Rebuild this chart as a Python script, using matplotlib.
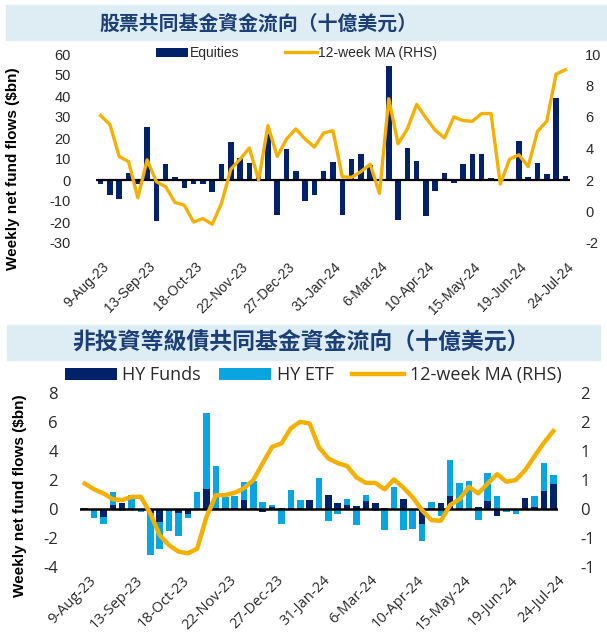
import numpy as np
import pandas as pd
import matplotlib
matplotlib.use("Agg")
import matplotlib.pyplot as plt
import matplotlib.font_manager as fm
import matplotlib.transforms as mtransforms
from matplotlib.patches import Rectangle
from matplotlib.ticker import FuncFormatter

# weekly dates, 9-Aug-23 .. 24-Jul-24
dates = pd.date_range("2023-08-09", periods=51, freq="7D")
date_labels = [f"{d.day}-{d.strftime('%b-%y')}" for d in dates]

# top chart: equity fund flows ($bn) and 12-week MA (RHS)
equities = [-2, -7, -9, 3.5, -2, 25.3, -19.5, 7.5, 1.3, -3.8,
            -1.9, -1.9, -5.6, 7.5, 18, 10.6, 8, 2, 22, -16.8,
            14.7, 4.3, -9.9, -7, 4.5, 8.6, -16.8, 10.2, 12.5, 7,
            0.5, 54.4, -19.2, 15.2, 9, -17.3, -5, 3.5, -1.3, 7.5,
            12.2, 12.6, 0.8, 0.4, 0.3, 18.7, 1.6, 8, 2.9, 38.9, 1.9]
ma_equities = [6.09, 5.52, 3.49, 3.17, 0.87, 3.28, 1.89, 1.57, 0.57, 0.40,
               -0.67, -0.45, -0.81, 0.51, 2.68, 3.32, 4.03, 2.0, 5.45, 3.49,
               4.6, 5.24, 4.6, 4.09, 4.99, 5.13, 2.2, 2.17, 2.53, 3.0,
               1.15, 7.16, 4.3, 5.24, 6.8, 5.94, 5.16, 4.67, 6.0, 5.77,
               5.73, 6.22, 6.22, 1.74, 3.32, 3.6, 2.85, 5.09, 5.73, 8.72, 9.0]

# bottom chart: high-yield flows ($bn) and 12-week MA (RHS)
hy_funds = [0.05, 0, -0.55, 0.3, 0.45, 0, 0, -0.3, -0.9, -0.15,
            -0.25, -0.37, -0.05, 1.4, 0.1, 0.1, 0.05, 0.65, 0.1, -0.23,
            0.15, 0.1, 0.05, 0.1, 0.6, 0.05, 1.0, 0.44, 0.28, 0.23,
            0.53, 0.44, 0.1, 0.0, 0.71, 0.0, -1.03, 0.1, 0.39, 0.87,
            0.1, 0.1, 0.16, 0.57, -0.46, 0.0, 0.0, 0.73, 0.15, 1.24, 1.7]
hy_etf = [0.05, -0.6, -0.5, 0.85, -0.15, 1.0, -0.2, -2.85, -1.85, -1.35,
          -1.6, -0.27, 1.15, 5.18, 2.85, 0.75, 0.87, 1.2, 1.83, 0.46,
          0.1, -1.03, 1.25, 0.5, 0.0, 2.1, -0.8, -0.34, 0.41, -1.12,
          0.41, -0.14, -1.42, 1.54, -1.42, -1.38, -1.15, 0.4, -0.44, 2.5,
          1.69, 1.83, -0.76, 1.88, 0.92, -0.18, -0.34, 0.0, 0.72, 1.9, 0.62]
ma_hy = [0.44, 0.34, 0.27, 0.17, 0.155, 0.21, 0.21, -0.075, -0.45, -0.62,
         -0.73, -0.76, -0.68, -0.13, 0.24, 0.24, 0.28, 0.36, 0.50, 0.79,
         1.07, 1.13, 1.39, 1.5, 1.47, 1.06, 0.87, 0.79, 0.74, 0.545,
         0.45, 0.45, 0.34, 0.51, 0.37, 0.2, -0.02, -0.19, -0.2, 0.07,
         0.17, 0.38, 0.27, 0.44, 0.6, 0.47, 0.5, 0.67, 0.91, 1.14, 1.34]

title_top = "股票共同基金資金流向（十億美元）"
title_bot = "非投資等級債共同基金資金流向（十億美元）"
ylab = "Weekly net fund flows ($bn)"

NAVY = "#012169"
LIGHT = "#0aa4e0"
GOLD = "#f4b000"
TXT = "#2a2a2a"
BAND = "#ddedf3"

names = {f.name for f in fm.fontManager.ttflist}
narrow = "Liberation Sans Narrow" if "Liberation Sans Narrow" in names else "Liberation Sans"
plt.rcParams["axes.unicode_minus"] = False

x = np.arange(len(dates))

fig = plt.figure(figsize=(6.07, 6.36), dpi=100)
W, H = 607.0, 636.0

def fx(px):
    return px / W

def fy(py):
    return 1 - py / H

# title bands
fig.patches.append(Rectangle((fx(6), fy(40)), 1 - fx(6), fy(5) - fy(40),
                             transform=fig.transFigure, color=BAND, zorder=0))
fig.patches.append(Rectangle((fx(7), fy(360)), fx(600) - fx(7), fy(325) - fy(360),
                             transform=fig.transFigure, color=BAND, zorder=0))
cjk = ["Noto Sans CJK TC", "DejaVu Sans"]
fig.text(fx(258), fy(23), title_top, ha="center", va="center", fontsize=14.3,
         color="#1c3f77", family=cjk, weight="bold")
fig.text(fx(301), fy(343), title_bot, ha="center", va="center", fontsize=16.5,
         color="#1c3f77", family=cjk, weight="bold")


def style(ax, fam, size):
    for s in ax.spines.values():
        s.set_visible(False)
    ax.tick_params(length=0, labelsize=size, colors=TXT)
    for lab in ax.get_xticklabels() + ax.get_yticklabels():
        lab.set_family(fam)


# ---------- top chart ----------
ax = fig.add_axes([fx(96), fy(243), fx(570) - fx(96), fy(54) - fy(243)])
ax.set_facecolor("none")
ax.bar(x, equities, width=0.6, color=NAVY, label="Equities", zorder=2)
ax.axhline(0, color="black", lw=1.6, zorder=3)
ax.set_xlim(-0.5, len(x) - 0.5)
ax.set_ylim(-30, 60)
ax.set_yticks(np.arange(-30, 61, 10))
ax.set_xticks(x[::5])
ax.set_xticklabels(date_labels[::5], rotation=45, ha="right", rotation_mode="anchor")
ax.tick_params(axis="y", pad=18)
ax.tick_params(axis="x", pad=12)
ax2 = ax.twinx()
ax2.plot(x, ma_equities, color=GOLD, lw=2.4, label="12-week MA (RHS)", zorder=4)
ax2.set_ylim(-2, 10)
ax2.set_yticks(np.arange(-2, 11, 2))
ax2.tick_params(axis="y", pad=11)
style(ax, narrow, 10.5)
style(ax2, narrow, 10.5)
ax.tick_params(axis="x", labelsize=10)
off = mtransforms.ScaledTranslation(1 / 100, 0, fig.dpi_scale_trans)
for lab in ax.get_xticklabels():
    lab.set_transform(lab.get_transform() + off)

h1, l1 = ax.get_legend_handles_labels()
h2, l2 = ax2.get_legend_handles_labels()
leg = ax2.legend(h1 + h2, l1 + l2, loc="center", bbox_to_anchor=(fx(297), fy(53)),
                 bbox_transform=fig.transFigure, ncol=2, frameon=False,
                 handlelength=2.3, handleheight=0.6, handletextpad=0.1,
                 columnspacing=3.3, prop={"family": narrow, "size": 10})
for t in leg.get_texts():
    t.set_color(TXT)

fig.text(fx(13), fy(169), ylab, rotation=90, ha="center", va="center",
         family=narrow, weight="bold", fontsize=11, color="black")

# ---------- bottom chart ----------
funds = np.array(hy_funds)
etf = np.array(hy_etf)
etf_base = np.where(np.sign(etf) == np.sign(funds), funds, 0)

bx = fig.add_axes([fx(80), fy(567.3), fx(558) - fx(80), fy(392.7) - fy(567.3)])
bx.set_facecolor("none")
bx.bar(x, funds, width=0.7, color=NAVY, label="HY Funds", zorder=2)
bx.bar(x, etf, bottom=etf_base, width=0.7, color=LIGHT, label="HY ETF", zorder=2)
bx.axhline(0, color="black", lw=1.8, zorder=3)
bx.set_xlim(-0.5, len(x) - 0.5)
bx.set_ylim(-4, 8)
bx.set_yticks(np.arange(-4, 9, 2))
bx.set_xticks(x[::5])
bx.set_xticklabels(date_labels[::5], rotation=45, ha="right", rotation_mode="anchor")
bx.tick_params(axis="y", pad=16)
bx.tick_params(axis="x", pad=4)
bx2 = bx.twinx()
bx2.plot(x, ma_hy, color=GOLD, lw=3.2, label="12-week MA (RHS)", zorder=4)
bx2.set_ylim(-1, 2)
bx2.set_yticks(np.arange(-1, 2.01, 0.5))
bx2.yaxis.set_major_formatter(
    FuncFormatter(lambda v, p: str(int(np.sign(v) * np.floor(abs(v) + 0.5)))))
bx2.tick_params(axis="y", pad=16)
style(bx, "Open Sans", 12)
style(bx2, "Open Sans", 12)
bx.tick_params(axis="x", labelsize=10.5)
off2 = mtransforms.ScaledTranslation(4 / 100, 0, fig.dpi_scale_trans)
for lab in bx.get_xticklabels():
    lab.set_transform(lab.get_transform() + off2)

h1, l1 = bx.get_legend_handles_labels()
h2, l2 = bx2.get_legend_handles_labels()
leg2 = bx2.legend(h1 + h2, l1 + l2, loc="center", bbox_to_anchor=(fx(313), fy(375)),
                  bbox_transform=fig.transFigure, ncol=3, frameon=False,
                  handlelength=2.9, handleheight=0.65, handletextpad=0.3,
                  columnspacing=1.0, prop={"family": "Open Sans", "size": 13})
for t in leg2.get_texts():
    t.set_color(TXT)

fig.text(fx(20), fy(496), ylab, rotation=90, ha="center", va="center",
         family=narrow, weight="bold", fontsize=11, color="black")

fig.savefig("out.png", dpi=100)
